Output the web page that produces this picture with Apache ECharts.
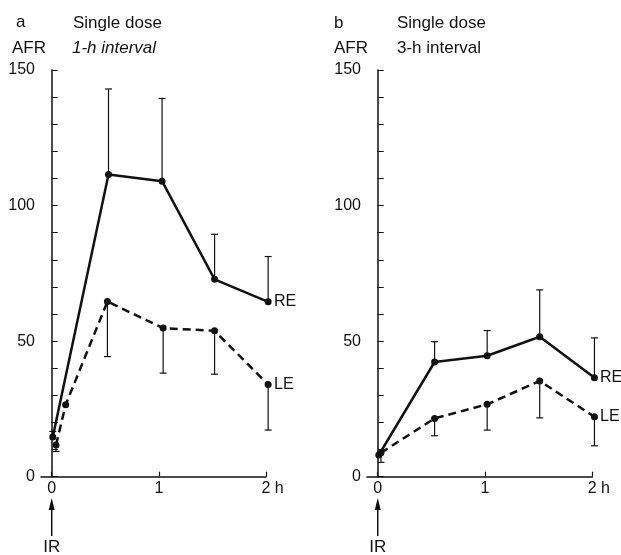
<!DOCTYPE html>
<html>
<head>
<meta charset="utf-8">
<script src="https://cdn.jsdelivr.net/npm/echarts@6/dist/echarts.min.js"></script>
<style>
  html, body { margin: 0; padding: 0; background: #fff; }
  #chart { width: 621px; height: 555px; }
</style>
</head>
<body>
<div id="chart"></div>
<script>
// panel a: single dose, 1-h interval
const aReX = [0.01, 0.53, 1.03, 1.52, 2.02]
const aReY = [14.6, 111.5, 109, 72.8, 64.5]
const aReTop = [16.7, 143, 139.5, 89.4, 81.2] // upper end of error bar
const aLeX = [0.04, 0.13, 0.52, 1.04, 1.52, 2.02]
const aLeY = [11.7, 26.5, 64.6, 54.8, 53.8, 34]
const aLeBottom = [9.3, null, 44.3, 38.2, 37.8, 17.2] // lower end of error bar

// panel b: single dose, 3-h interval
const bReX = [0.01, 0.53, 1.02, 1.51, 2.02]
const bReY = [8, 42.3, 44.6, 51.6, 36.5]
const bReTop = [null, 49.8, 53.9, 68.9, 51.2]
const bLeX = [0.03, 0.53, 1.02, 1.51, 2.02]
const bLeY = [8.8, 21.5, 26.7, 35.3, 22.1]
const bLeBottom = [5.3, 15.1, 17.2, 21.7, 11.4]

const xTicks = [0, 1, 2]
const yLabels = [0, 50, 100, 150]

const FONT = "'Liberation Sans', Arial, sans-serif"
const INK = '#111'

function pts (xs, ys) {
  return xs.map((x, i) => [x, ys[i]])
}
function errPts (xs, ys, ends) {
  let out = []
  xs.forEach((x, i) => {
    if (ends[i] != null) out.push([x, ys[i], ends[i]])
  })
  return out
}

// error bar: stem from point to end, small cap at the end
function renderErr (params, api) {
  let p = api.coord([api.value(0), api.value(1)])
  let c = api.coord([api.value(0), api.value(2)])
  let st = { stroke: INK, lineWidth: 1.2 }
  return {
    type: 'group',
    children: [
      { type: 'line', shape: { x1: p[0], y1: p[1], x2: c[0], y2: c[1] }, style: st },
      { type: 'line', shape: { x1: c[0] - 3.5, y1: c[1], x2: c[0] + 3.5, y2: c[1] }, style: st }
    ]
  }
}

function xAxisOpt (idx) {
  return {
    type: 'value',
    gridIndex: idx,
    min: -0.1,
    max: 2,
    splitLine: { show: false },
    axisLine: { show: true, onZero: false, lineStyle: { color: INK, width: 1.5 } },
    axisTick: { show: true, inside: true, length: 5, customValues: xTicks, lineStyle: { color: INK, width: 1.2 } },
    axisLabel: {
      customValues: xTicks,
      margin: 4,
      color: INK,
      fontFamily: FONT,
      fontSize: 16,
      formatter: v => v === 2 ? '{p| }{n|2}{u| h}' : String(v),
      rich: {
        p: { width: 13, fontSize: 16, fontFamily: FONT },
        n: { fontSize: 16, fontFamily: FONT, color: INK },
        u: { fontSize: 16, fontFamily: FONT, color: INK }
      }
    }
  }
}

function yAxisOpt (idx) {
  return {
    type: 'value',
    gridIndex: idx,
    min: 0,
    max: 150,
    interval: 10,
    splitLine: { show: false },
    axisLine: { show: true, lineStyle: { color: INK, width: 1.5 } },
    axisTick: { show: true, inside: true, length: 6, lineStyle: { color: INK, width: 1 } },
    axisLabel: {
      customValues: yLabels,
      margin: 6,
      color: INK,
      fontFamily: FONT,
      fontSize: 16
    }
  }
}

function lineSeries (idx, name, data, dashed) {
  return {
    type: 'line',
    name: name,
    xAxisIndex: idx,
    yAxisIndex: idx,
    data: data,
    clip: false,
    symbol: 'circle',
    symbolSize: 7,
    itemStyle: { color: INK },
    lineStyle: { color: INK, width: 2.5, type: dashed ? [8, 5] : 'solid' },
    endLabel: { show: true, formatter: name, color: INK, fontFamily: FONT, fontSize: 16, distance: 6 },
    animation: false,
    z: 3
  }
}

function errSeries (idx, data) {
  return {
    type: 'custom',
    xAxisIndex: idx,
    yAxisIndex: idx,
    data: data,
    clip: false,
    renderItem: renderErr,
    animation: false,
    z: 2
  }
}

function titleText (text, left, top, italic) {
  return {
    text: text,
    left: left,
    top: top,
    padding: 0,
    textStyle: { fontFamily: FONT, fontSize: 17, fontWeight: 'normal', fontStyle: italic ? 'italic' : 'normal', color: INK, lineHeight: 17 }
  }
}

let myChart = echarts.init(document.getElementById('chart'), null, { renderer: 'canvas' })
myChart.setOption({
  backgroundColor: '#fff',
  animation: false,
  title: [
    titleText('a', 16, 14),
    titleText('AFR', 12, 40),
    titleText('Single dose', 73, 15),
    titleText('1-h interval', 72, 40, true),
    titleText('b', 334, 15),
    titleText('AFR', 334, 40),
    titleText('Single dose', 397, 15),
    titleText('3-h interval', 397, 40)
  ],
  grid: [
    { left: 41, top: 70, width: 225, height: 406.7 },
    { left: 367, top: 70, width: 225.3, height: 406.7 }
  ],
  xAxis: [xAxisOpt(0), xAxisOpt(1)],
  yAxis: [yAxisOpt(0), yAxisOpt(1)],
  series: [
    errSeries(0, errPts(aReX, aReY, aReTop)),
    errSeries(0, errPts(aLeX, aLeY, aLeBottom)),
    lineSeries(0, 'RE', pts(aReX, aReY), false),
    lineSeries(0, 'LE', pts(aLeX, aLeY), true),
    errSeries(1, errPts(bReX, bReY, bReTop)),
    errSeries(1, errPts(bLeX, bLeY, bLeBottom)),
    lineSeries(1, 'RE', pts(bReX, bReY), false),
    lineSeries(1, 'LE', pts(bLeX, bLeY), true)
  ]
})

// IR arrows under the 0 tick of each panel
function irArrow (idx) {
  let x = myChart.convertToPixel({ xAxisIndex: idx }, 0)
  return [
    { type: 'line', shape: { x1: x, y1: 536, x2: x, y2: 506 }, style: { stroke: INK, lineWidth: 1.5 } },
    { type: 'polygon', shape: { points: [[x, 498], [x - 3, 510], [x + 3, 510]] }, style: { fill: INK } },
    { type: 'text', x: x, y: 539, style: { text: 'IR', fill: INK, font: '17px ' + FONT, textAlign: 'center', textVerticalAlign: 'top' } }
  ]
}
myChart.setOption({ graphic: irArrow(0).concat(irArrow(1)) })
</script>
</body>
</html>
